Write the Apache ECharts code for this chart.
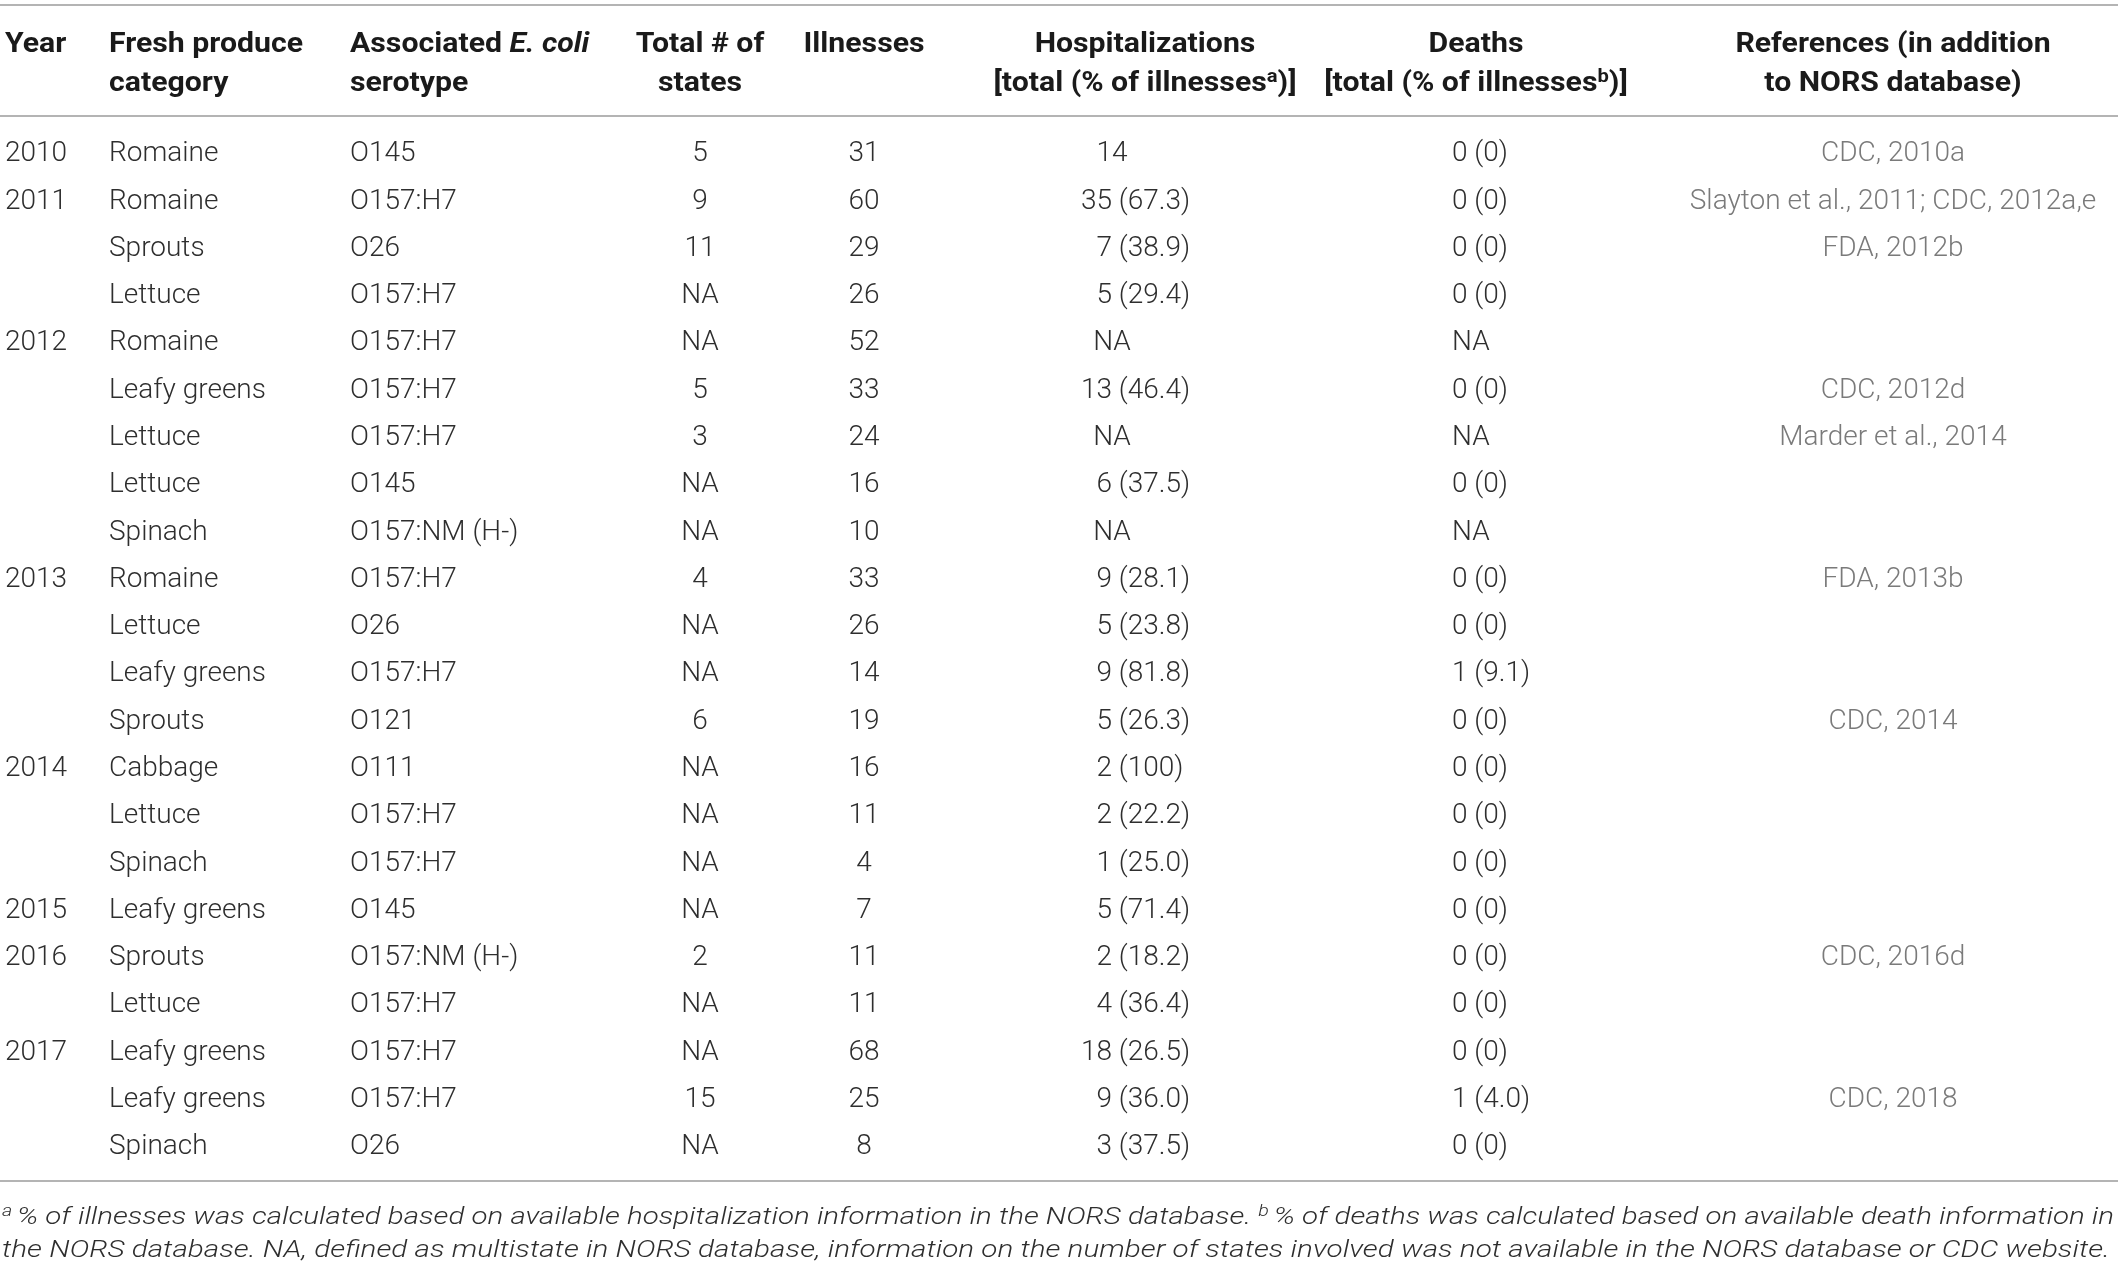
<!DOCTYPE html>
<html><head><meta charset="utf-8">
<script src="https://cdn.jsdelivr.net/npm/echarts@6/dist/echarts.min.js"></script>
<style>html,body{margin:0;padding:0;background:#fff}#c{width:2118px;height:1270px}</style>
</head><body><div id="c"></div>
<script>
// ---- data ----
const years = ['2010','2011','','','2012','','','','','2013','','','','2014','','','2015','2016','','2017','',''];
const produce = ['Romaine','Romaine','Sprouts','Lettuce','Romaine','Leafy greens','Lettuce','Lettuce','Spinach','Romaine','Lettuce','Leafy greens','Sprouts','Cabbage','Lettuce','Spinach','Leafy greens','Sprouts','Lettuce','Leafy greens','Leafy greens','Spinach'];
const serotypes = ['O145','O157:H7','O26','O157:H7','O157:H7','O157:H7','O157:H7','O145','O157:NM (H-)','O157:H7','O26','O157:H7','O121','O111','O157:H7','O157:H7','O145','O157:NM (H-)','O157:H7','O157:H7','O157:H7','O26'];
const states = ['5','9','11','NA','NA','5','3','NA','NA','4','NA','NA','6','NA','NA','NA','NA','2','NA','NA','15','NA'];
const illnesses = ['31','60','29','26','52','33','24','16','10','33','26','14','19','16','11','4','7','11','11','68','25','8'];
const hospitalizations = ['14','35 (67.3)','7 (38.9)','5 (29.4)','NA','13 (46.4)','NA','6 (37.5)','NA','9 (28.1)','5 (23.8)','9 (81.8)','5 (26.3)','2 (100)','2 (22.2)','1 (25.0)','5 (71.4)','2 (18.2)','4 (36.4)','18 (26.5)','9 (36.0)','3 (37.5)'];
const deaths = ['0 (0)','0 (0)','0 (0)','0 (0)','NA','0 (0)','NA','0 (0)','NA','0 (0)','0 (0)','1 (9.1)','0 (0)','0 (0)','0 (0)','0 (0)','0 (0)','0 (0)','0 (0)','0 (0)','1 (4.0)','0 (0)'];
const references = ['CDC, 2010a','Slayton et al., 2011; CDC, 2012a,e','FDA, 2012b','','','CDC, 2012d','Marder et al., 2014','','','FDA, 2013b','','','CDC, 2014','','','','','CDC, 2016d','','','CDC, 2018',''];
const headers = {
  year: ['Year'],
  produce: ['Fresh produce', 'category'],
  serotype: ['Associated {i|E. coli}', 'serotype'],
  states: ['Total # of', 'states'],
  illnesses: ['Illnesses'],
  hosp: ['Hospitalizations', '[total (% of illnesses{sup|a})]'],
  deaths: ['Deaths', '[total (% of illnesses{sup|b})]'],
  refs: ['References (in addition', 'to NORS database)']
};
const footLine1 = '{sup|a }% of illnesses was calculated based on available hospitalization information in the NORS database. {sup|b }% of deaths was calculated based on available death information in';
const footLine2 = 'the NORS database. NA, defined as multistate in NORS database, information on the number of states involved was not available in the NORS database or CDC website.';

// ---- layout / style ----
const W = 2118;
const BODY_FONT = 'Roboto, "Liberation Sans", sans-serif';
const BODY_SIZE = 28, BODY_W = 300, BODY_COLOR = '#2e2e2e';
const HEAD_SIZE = 27, HEAD_SCALE = 1.12, HEAD_COLOR = '#1a1a1a';
const REF_COLOR = '#7a7a7a';
const RULE_COLOR = '#b4b4b4';
const colX = {year: 5, produce: 109, serotype: 350, states: 700, illnesses: 864, hospNum: 1112, hospMid: 1112, deaths: 1452, refs: 1893};
const rowIdx = produce.map((_, i) => String(i));

function bodyText(x, y, text, align, color) {
  return {type: 'text', x: x, y: y, style: {text: text, fontFamily: BODY_FONT, fontSize: BODY_SIZE, fontWeight: BODY_W,
    fill: color || BODY_COLOR, align: align, verticalAlign: 'middle'}};
}

function renderRow(params, api) {
  const i = api.value(0);
  const y = api.coord([0, i])[1];
  const X = v => api.coord([v, i])[0];
  const ch = [];
  if (years[i]) ch.push(bodyText(X(colX.year), y, years[i], 'left'));
  ch.push(bodyText(X(colX.produce), y, produce[i], 'left'));
  ch.push(bodyText(X(colX.serotype), y, serotypes[i], 'left'));
  ch.push(bodyText(X(colX.states), y, states[i], 'center'));
  ch.push(bodyText(X(colX.illnesses), y, illnesses[i], 'center'));
  const h = hospitalizations[i];
  const m = h.match(/^(\S+)(\s.*)$/);
  if (m) {
    ch.push(bodyText(X(colX.hospNum), y, m[1], 'right'));
    ch.push(bodyText(X(colX.hospNum), y, m[2], 'left'));
  } else {
    ch.push(bodyText(X(colX.hospMid), y, h, 'center'));
  }
  ch.push(bodyText(X(colX.deaths), y, deaths[i], 'left'));
  if (references[i]) ch.push(bodyText(X(colX.refs), y, references[i], 'center', REF_COLOR));
  return {type: 'group', children: ch};
}

const headRich = {
  i: {fontFamily: BODY_FONT, fontSize: HEAD_SIZE, fontWeight: 'bold', fontStyle: 'italic', fill: HEAD_COLOR},
  sup: {fontFamily: BODY_FONT, fontSize: 18, fontWeight: 'bold', verticalAlign: 'top', fill: HEAD_COLOR}
};
function headText(x, y, text, align) {
  return {type: 'text', x: x, y: y, scaleX: HEAD_SCALE, style: {text: text, rich: headRich, fontFamily: BODY_FONT, fontSize: HEAD_SIZE,
    fontWeight: 'bold', fill: HEAD_COLOR, align: align, verticalAlign: 'middle', lineHeight: 32}};
}
const HL1 = 45, HL2 = 84;
const headerGraphics = [];
function addHead(lines, x, align) {
  lines.forEach((t, k) => headerGraphics.push(headText(x, k === 0 ? HL1 : HL2, t, align)));
}
addHead(headers.year, colX.year, 'left');
addHead(headers.produce, colX.produce, 'left');
addHead(headers.serotype, colX.serotype, 'left');
addHead(headers.states, colX.states, 'center');
addHead(headers.illnesses, colX.illnesses, 'center');
addHead(headers.hosp, 1145, 'center');
addHead(headers.deaths, 1476, 'center');
addHead(headers.refs, colX.refs, 'center');

function rule(y) {
  return {type: 'line', shape: {x1: 0, y1: y, x2: W, y2: y}, style: {stroke: RULE_COLOR, lineWidth: 2}};
}

// footnote: scale horizontally to span the page width
const FOOT_SIZE = 24, FOOT_SUP = 16;
const FOOT_FONT = 'Roboto, "Liberation Sans", sans-serif';
const cv = document.createElement('canvas').getContext('2d');
function measureRich(str) {
  let w = 0;
  str.split(/(\{sup\|[^}]*\})/).forEach(part => {
    const m = part.match(/^\{sup\|([^}]*)\}$/);
    if (m) { cv.font = `italic 300 ${FOOT_SUP}px ${FOOT_FONT}`; w += cv.measureText(m[1]).width; }
    else if (part) { cv.font = `italic 300 ${FOOT_SIZE}px ${FOOT_FONT}`; w += cv.measureText(part).width; }
  });
  return w;
}
const footRich = {sup: {fontFamily: FOOT_FONT, fontSize: FOOT_SUP, fontStyle: 'italic', fontWeight: 300, verticalAlign: 'top', fill: BODY_COLOR}};
function footText(y, text, target) {
  const s = target / measureRich(text);
  return {type: 'text', x: 2, y: y, scaleX: s, originX: 0, style: {text: text, rich: footRich, fontFamily: FOOT_FONT,
    fontSize: FOOT_SIZE, fontStyle: 'italic', fontWeight: 300, fill: BODY_COLOR, align: 'left', verticalAlign: 'middle', lineHeight: 28}};
}

const chart = echarts.init(document.getElementById('c'), null, {renderer: 'canvas'});
chart.setOption({
  backgroundColor: '#fff',
  animation: false,
  grid: {left: 0, right: 0, top: 130.7, height: 1040.2},
  xAxis: {type: 'value', min: 0, max: W, show: false},
  yAxis: {type: 'category', data: rowIdx, inverse: true, show: false, boundaryGap: true},
  series: [{
    type: 'custom',
    renderItem: renderRow,
    data: rowIdx.map(r => [Number(r)]),
    encode: {y: 0},
    silent: true
  }],
  graphic: {elements: [rule(5), rule(116), rule(1181)].concat(headerGraphics, [
    footText(1218, footLine1, 2112),
    footText(1251, footLine2, 2108)
  ])}
});
</script>
</body></html>
